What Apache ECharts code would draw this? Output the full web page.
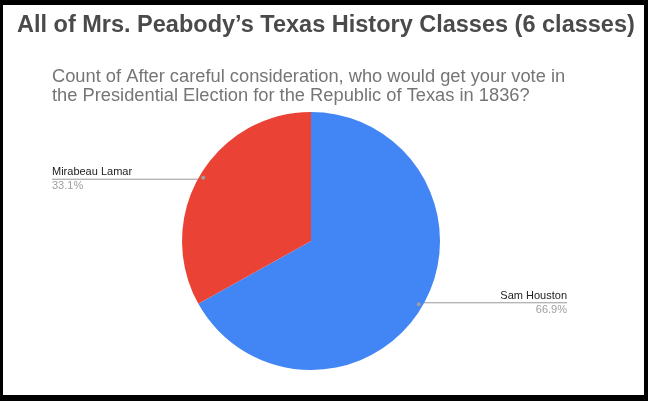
<!DOCTYPE html>
<html>
<head>
<meta charset="utf-8">
<script src="https://cdn.jsdelivr.net/npm/echarts@6/dist/echarts.min.js"></script>
<style>
html,body{margin:0;padding:0;background:#000;width:648px;height:401px;overflow:hidden;}
#chart{position:absolute;left:3px;top:5px;width:641px;height:390px;background:#fff;}
</style>
</head>
<body>
<div id="chart"></div>
<script>
const titleText = "All of Mrs. Peabody’s Texas History Classes (6 classes)";
const subtitleText = "Count of After careful consideration, who would get your vote in\nthe Presidential Election for the Republic of Texas in 1836?";
const categories = ["Sam Houston", "Mirabeau Lamar"];
const values = [66.9, 33.1];
const colors = ["#4285f4", "#ea4335"];

const chart = echarts.init(document.getElementById('chart'));
const CX = 308, CY = 236, R = 129, RDOT = 122;
const LEFT_EDGE = 49, RIGHT_EDGE = 564;
const total = values.reduce((a, b) => a + b, 0);
function midAngle(i) {
  let cum = 0;
  for (let k = 0; k < i; k++) cum += values[k];
  const frac = (cum + values[i] / 2) / total;
  return (90 - frac * 360) * Math.PI / 180;
}
const font = "Liberation Sans, Arial, sans-serif";
chart.setOption({
  animation: false,
  title: [
    { text: titleText, left: 9, top: 4, padding: 5,
      textStyle: { fontFamily: font, fontSize: 23.5, fontWeight: 'bold', color: '#4a4a4a' } },
    { text: subtitleText, left: 44, top: 57, padding: 5,
      textStyle: { fontFamily: font, fontSize: 18.3, fontWeight: 'normal', color: '#757575', lineHeight: 19 } }
  ],
  series: [
    {
      type: 'pie',
      center: [CX, CY],
      radius: [0, R],
      startAngle: 90,
      clockwise: true,
      percentPrecision: 1,
      silent: true,
      data: categories.map((c, i) => ({ name: c, value: values[i], itemStyle: { color: colors[i] } })),
      label: {
        show: true,
        formatter: '{n|{b}}\n{p|{d}%}',
        rich: {
          n: { fontFamily: font, fontSize: 11, color: '#222', lineHeight: 14 },
          p: { fontFamily: font, fontSize: 11, color: '#9e9e9e', lineHeight: 14 }
        }
      },
      labelLine: { show: true, length: 10, length2: 10, lineStyle: { color: '#999', width: 1 } },
      labelLayout: function (params) {
        const a = midAngle(params.dataIndex);
        const dx = CX + RDOT * Math.cos(a);
        const dy = CY - RDOT * Math.sin(a);
        const isLeft = Math.cos(a) < 0;
        const ex = isLeft ? LEFT_EDGE : RIGHT_EDGE;
        return {
          x: ex, y: dy,
          align: isLeft ? 'left' : 'right',
          verticalAlign: 'middle',
          labelLinePoints: [[dx, dy], [dx, dy], [ex, dy]]
        };
      }
    },
    {
      type: 'pie',
      center: [CX, CY],
      radius: [RDOT - 6, RDOT + 6],
      startAngle: 90,
      clockwise: true,
      silent: true,
      z: 5,
      data: categories.map((c, i) => ({ name: c, value: values[i], itemStyle: { color: 'rgba(0,0,0,0)' } })),
      label: {
        show: true, position: 'inside',
        formatter: '{d|}',
        rich: { d: { width: 4, height: 4, borderRadius: 2, backgroundColor: '#9e9e9e' } }
      },
      labelLine: { show: false }
    }
  ]
});
</script>
</body>
</html>
